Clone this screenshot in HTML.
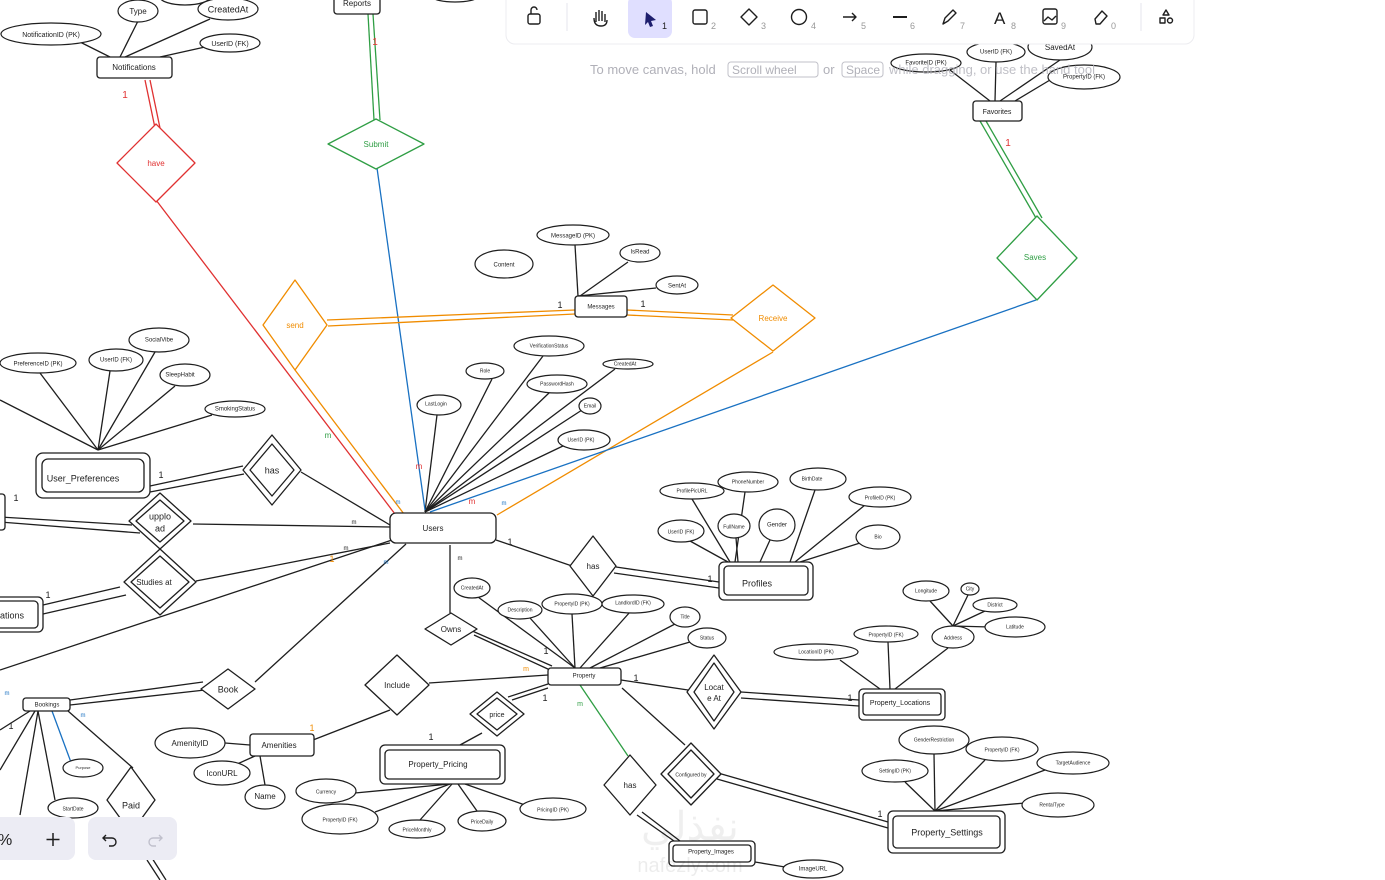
<!DOCTYPE html>
<html><head><meta charset="utf-8"><style>
html,body{margin:0;padding:0;background:#fff;width:1385px;height:880px;overflow:hidden}
svg{display:block}
text{font-family:"Liberation Sans",sans-serif}
</style></head><body>
<svg width="1385" height="880" viewBox="0 0 1385 880" xmlns="http://www.w3.org/2000/svg">
<g fill="none" stroke="#1e1e1e" stroke-width="1.3" stroke-linejoin="round">
<!-- top-left partial ellipses -->
<ellipse cx="185" cy="-3" rx="25" ry="8" fill="#fff"/>
<ellipse cx="455" cy="-3" rx="22" ry="5" fill="#fff"/>
<!-- notifications lines -->
<line x1="120" y1="57" x2="138" y2="21"/><line x1="125" y1="57" x2="210" y2="19"/>
<line x1="110" y1="57" x2="80" y2="42"/><line x1="160" y1="57" x2="205" y2="47"/>
<!-- messages attrs -->
<line x1="578" y1="296" x2="575" y2="245"/><line x1="580" y1="296" x2="628" y2="262"/>
<line x1="578" y1="296" x2="656" y2="288"/>
<!-- favorites attrs -->
<line x1="990" y1="101" x2="950" y2="70"/><line x1="995" y1="101" x2="996" y2="62"/>
<line x1="1000" y1="101" x2="1060" y2="60"/><line x1="1015" y1="101" x2="1050" y2="80"/>
<!-- user prefs attrs -->
<line x1="98" y1="450" x2="0" y2="400"/><line x1="98" y1="450" x2="40" y2="373"/><line x1="98" y1="450" x2="110" y2="371"/>
<line x1="98" y1="450" x2="155" y2="352"/><line x1="98" y1="450" x2="175" y2="386"/><line x1="98" y1="450" x2="212" y2="415"/>
<!-- users attrs -->
<line x1="425" y1="512" x2="437" y2="415"/><line x1="425" y1="512" x2="492" y2="379"/><line x1="425" y1="512" x2="543" y2="356"/>
<line x1="425" y1="512" x2="550" y2="392"/><line x1="425" y1="512" x2="615" y2="369"/><line x1="425" y1="512" x2="582" y2="410"/>
<line x1="425" y1="512" x2="565" y2="445"/>
<!-- profiles attrs -->
<line x1="730" y1="562" x2="692" y2="499"/><line x1="735" y1="562" x2="745" y2="492"/><line x1="790" y1="562" x2="815" y2="490"/>
<line x1="795" y1="562" x2="865" y2="505"/><line x1="800" y1="562" x2="860" y2="543"/><line x1="728" y1="562" x2="690" y2="541"/>
<line x1="738" y1="562" x2="736" y2="538"/><line x1="760" y1="562" x2="770" y2="540"/>
<!-- property attrs -->
<line x1="575" y1="668" x2="478" y2="597"/><line x1="575" y1="668" x2="530" y2="618"/><line x1="575" y1="668" x2="572" y2="614"/>
<line x1="580" y1="668" x2="630" y2="612"/><line x1="590" y1="668" x2="675" y2="624"/><line x1="600" y1="668" x2="690" y2="642"/>
<!-- locations attrs -->
<line x1="880" y1="689" x2="840" y2="660"/><line x1="890" y1="689" x2="888" y2="642"/><line x1="895" y1="689" x2="948" y2="648"/>
<line x1="953" y1="626" x2="930" y2="601"/><line x1="953" y1="626" x2="968" y2="595"/><line x1="953" y1="626" x2="985" y2="611"/><line x1="953" y1="626" x2="990" y2="627"/>
<!-- settings attrs -->
<line x1="935" y1="811" x2="934" y2="754"/><line x1="935" y1="811" x2="905" y2="782"/><line x1="935" y1="811" x2="985" y2="760"/>
<line x1="935" y1="811" x2="1045" y2="770"/><line x1="935" y1="811" x2="1025" y2="803"/>
<!-- pricing attrs -->
<line x1="450" y1="784" x2="355" y2="793"/><line x1="450" y1="784" x2="375" y2="812"/><line x1="452" y1="784" x2="420" y2="820"/>
<line x1="458" y1="784" x2="477" y2="811"/><line x1="465" y1="784" x2="525" y2="805"/>
<!-- amenities attrs -->
<line x1="250" y1="745" x2="225" y2="743"/><line x1="255" y1="756" x2="235" y2="765"/><line x1="260" y1="756" x2="265" y2="785"/>
<!-- bookings attrs -->
<line x1="35" y1="711" x2="0" y2="770"/><line x1="38" y1="711" x2="20" y2="815"/><line x1="38" y1="711" x2="55" y2="800"/>
<line x1="68" y1="711" x2="133" y2="768"/><line x1="30" y1="711" x2="0" y2="730"/>
<line x1="147" y1="860" x2="160" y2="880"/><line x1="152" y1="858" x2="166" y2="880"/>
<!-- images attr -->
<line x1="755" y1="862" x2="785" y2="867"/>
<!-- black relationship lines -->
<line x1="150" y1="486" x2="243" y2="466"/><line x1="150" y1="492" x2="244" y2="474"/><line x1="301" y1="472" x2="390" y2="525"/>
<line x1="0" y1="517" x2="132" y2="525"/><line x1="0" y1="522" x2="140" y2="533"/><line x1="193" y1="524" x2="390" y2="527"/>
<line x1="43" y1="605" x2="120" y2="587"/><line x1="43" y1="614" x2="126" y2="595"/><line x1="196" y1="581" x2="390" y2="543"/>
<line x1="0" y1="670" x2="392" y2="540"/>
<line x1="70" y1="700" x2="203" y2="682"/><line x1="70" y1="705" x2="205" y2="690"/><line x1="255" y1="682" x2="406" y2="544"/>
<line x1="496" y1="540" x2="572" y2="566"/><line x1="616" y1="567" x2="719" y2="582"/><line x1="614" y1="573" x2="719" y2="588"/>
<line x1="450" y1="545" x2="450" y2="613"/><line x1="470" y1="630" x2="552" y2="666"/><line x1="474" y1="635" x2="550" y2="670"/>
<line x1="313" y1="740" x2="390" y2="710"/><line x1="429" y1="683" x2="548" y2="675"/>
<line x1="548" y1="684" x2="508" y2="697"/><line x1="548" y1="688" x2="512" y2="700"/><line x1="482" y1="733" x2="460" y2="745"/>
<line x1="621" y1="680" x2="688" y2="690"/><line x1="741" y1="692" x2="859" y2="700"/><line x1="741" y1="698" x2="859" y2="706"/>
<line x1="622" y1="688" x2="685" y2="745"/><line x1="718" y1="773" x2="888" y2="822"/><line x1="717" y1="779" x2="888" y2="828"/>
<line x1="642" y1="812" x2="680" y2="841"/><line x1="637" y1="815" x2="674" y2="841"/>
</g>
<!-- colored lines -->
<g fill="none" stroke-width="1.3">
<line x1="145" y1="80" x2="155" y2="128" stroke="#e03131"/><line x1="150" y1="80" x2="160" y2="128" stroke="#e03131"/>
<line x1="156" y1="200" x2="395" y2="514" stroke="#e03131"/>
<line x1="368" y1="14" x2="374" y2="120" stroke="#2f9e44"/><line x1="373" y1="14" x2="380" y2="120" stroke="#2f9e44"/>
<line x1="377" y1="168" x2="425" y2="510" stroke="#1971c2"/>
<line x1="575" y1="310" x2="327" y2="320" stroke="#f08c00"/><line x1="575" y1="314" x2="328" y2="326" stroke="#f08c00"/>
<line x1="295" y1="370" x2="404" y2="514" stroke="#f08c00"/>
<line x1="627" y1="310" x2="733" y2="315" stroke="#f08c00"/><line x1="627" y1="315" x2="733" y2="320" stroke="#f08c00"/>
<line x1="773" y1="352" x2="497" y2="515" stroke="#f08c00"/>
<line x1="980" y1="121" x2="1036" y2="218" stroke="#2f9e44"/><line x1="986" y1="121" x2="1042" y2="218" stroke="#2f9e44"/>
<line x1="1036" y1="300" x2="430" y2="512" stroke="#1971c2"/>
<line x1="580" y1="685" x2="628" y2="756" stroke="#2f9e44"/>
<line x1="52" y1="711" x2="72" y2="765" stroke="#1971c2"/>
</g>
<!-- entities -->
<g fill="#fff" stroke="#1e1e1e" stroke-width="1.3">
<rect x="97" y="57" width="75" height="21" rx="3"/>
<rect x="334" y="-6" width="46" height="20" rx="3"/>
<rect x="575" y="296" width="52" height="21" rx="3"/>
<rect x="390" y="513" width="106" height="30" rx="6"/>
<rect x="36" y="453" width="114" height="45" rx="7"/><rect x="42" y="459" width="102" height="33" rx="6"/>
<rect x="-5" y="494" width="10" height="36" rx="3"/>
<rect x="-10" y="597" width="53" height="35" rx="5"/><rect x="-5" y="601" width="43" height="27" rx="4"/>
<rect x="719" y="562" width="94" height="38" rx="5"/><rect x="724" y="566" width="84" height="29" rx="4"/>
<rect x="548" y="668" width="73" height="17" rx="3"/>
<rect x="859" y="689" width="86" height="31" rx="4"/><rect x="863" y="693" width="78" height="22" rx="3"/>
<rect x="380" y="745" width="125" height="39" rx="5"/><rect x="385" y="750" width="115" height="29" rx="4"/>
<rect x="250" y="734" width="64" height="22" rx="3"/>
<rect x="23" y="698" width="47" height="13" rx="3"/>
<rect x="888" y="811" width="117" height="42" rx="5"/><rect x="893" y="816" width="107" height="32" rx="4"/>
<rect x="669" y="841" width="86" height="25" rx="4"/><rect x="673" y="845" width="78" height="17" rx="3"/>
<rect x="973" y="101" width="49" height="20" rx="3"/>
</g>
<!-- diamonds -->
<g fill="#fff" stroke-width="1.3" stroke-linejoin="round">
<polygon points="156,124 195,163 156,202 117,163" stroke="#e03131"/>
<polygon points="376,119 424,144 376,169 328,144" stroke="#2f9e44"/>
<polygon points="295,280 327,325 295,370 263,325" stroke="#f08c00"/>
<polygon points="773,285 815,318 773,351 731,318" stroke="#f08c00"/>
<polygon points="1037,216 1077,258 1037,300 997,258" stroke="#2f9e44"/>
</g>
<g fill="#fff" stroke="#1e1e1e" stroke-width="1.3" stroke-linejoin="round">
<polygon points="272,435 301,470 272,505 243,470"/><polygon points="272,444 294,470 272,496 250,470"/>
<polygon points="160,493 191,521 160,549 129,521"/><polygon points="160,500 184,521 160,542 136,521"/>
<polygon points="160,549 196,582 160,615 124,582"/><polygon points="160,556 189,582 160,608 131,582"/>
<polygon points="593,536 616,566 593,596 570,566"/>
<polygon points="451,613 477,629 451,645 425,629"/>
<polygon points="228,669 255,689 228,709 201,689"/>
<polygon points="397,655 429,685 397,715 365,685"/>
<polygon points="497,692 524,714 497,736 470,714"/><polygon points="497,698 517,714 497,730 477,714"/>
<polygon points="714,655 741,692 714,729 687,692"/><polygon points="714,663 734,692 714,721 694,692"/>
<polygon points="630,755 656,785 630,815 604,785"/>
<polygon points="691,743 721,774 691,805 661,774"/><polygon points="691,750 714,774 691,798 668,774"/>
<polygon points="131,767 155,800 131,833 107,800"/>
</g>
<!-- ellipses -->
<g fill="#fff" stroke="#1e1e1e" stroke-width="1.2">
<ellipse cx="138" cy="11" rx="20" ry="11"/><ellipse cx="228" cy="9" rx="30" ry="11"/>
<ellipse cx="51" cy="34" rx="50" ry="11"/><ellipse cx="230" cy="43" rx="30" ry="9"/>
<ellipse cx="573" cy="235" rx="36" ry="10"/><ellipse cx="640" cy="253" rx="20" ry="9"/>
<ellipse cx="504" cy="264" rx="29" ry="14"/><ellipse cx="677" cy="285" rx="21" ry="9"/>
<ellipse cx="926" cy="63" rx="35" ry="9"/><ellipse cx="996" cy="52" rx="29" ry="10"/>
<ellipse cx="1060" cy="47" rx="32" ry="13"/><ellipse cx="1084" cy="77" rx="36" ry="12"/>
<ellipse cx="38" cy="363" rx="38" ry="10"/><ellipse cx="116" cy="360" rx="27" ry="11"/>
<ellipse cx="159" cy="340" rx="30" ry="12"/><ellipse cx="185" cy="375" rx="25" ry="11"/><ellipse cx="235" cy="409" rx="30" ry="8"/>
<ellipse cx="549" cy="346" rx="35" ry="10"/><ellipse cx="485" cy="371" rx="19" ry="8"/><ellipse cx="439" cy="405" rx="22" ry="10"/>
<ellipse cx="557" cy="384" rx="30" ry="9"/><ellipse cx="628" cy="364" rx="25" ry="5"/><ellipse cx="590" cy="406" rx="11" ry="8"/>
<ellipse cx="584" cy="440" rx="26" ry="10"/>
<ellipse cx="692" cy="491" rx="32" ry="8"/><ellipse cx="748" cy="482" rx="30" ry="10"/><ellipse cx="818" cy="479" rx="28" ry="11"/>
<ellipse cx="880" cy="497" rx="31" ry="10"/><ellipse cx="878" cy="537" rx="22" ry="12"/><ellipse cx="681" cy="531" rx="23" ry="11"/>
<ellipse cx="734" cy="526" rx="16" ry="12"/><ellipse cx="777" cy="525" rx="18" ry="16"/>
<ellipse cx="472" cy="588" rx="18" ry="10"/><ellipse cx="520" cy="610" rx="22" ry="9"/><ellipse cx="572" cy="604" rx="30" ry="10"/>
<ellipse cx="633" cy="604" rx="31" ry="9"/><ellipse cx="685" cy="617" rx="15" ry="10"/><ellipse cx="707" cy="638" rx="19" ry="10"/>
<ellipse cx="926" cy="591" rx="23" ry="10"/><ellipse cx="970" cy="589" rx="9" ry="6"/><ellipse cx="995" cy="605" rx="22" ry="7"/>
<ellipse cx="1015" cy="627" rx="30" ry="10"/><ellipse cx="953" cy="637" rx="21" ry="11"/><ellipse cx="886" cy="634" rx="32" ry="8"/>
<ellipse cx="816" cy="652" rx="42" ry="8"/>
<ellipse cx="934" cy="740" rx="35" ry="14"/><ellipse cx="1002" cy="749" rx="36" ry="12"/><ellipse cx="1073" cy="763" rx="36" ry="11"/>
<ellipse cx="895" cy="771" rx="33" ry="11"/><ellipse cx="1058" cy="805" rx="36" ry="12"/>
<ellipse cx="326" cy="791" rx="30" ry="12"/><ellipse cx="340" cy="819" rx="38" ry="15"/><ellipse cx="417" cy="829" rx="28" ry="9"/>
<ellipse cx="482" cy="821" rx="24" ry="10"/><ellipse cx="553" cy="809" rx="33" ry="11"/>
<ellipse cx="190" cy="743" rx="35" ry="15"/><ellipse cx="222" cy="773" rx="28" ry="12"/><ellipse cx="265" cy="797" rx="20" ry="12"/>
<ellipse cx="83" cy="768" rx="20" ry="9"/><ellipse cx="73" cy="808" rx="25" ry="10"/>
<ellipse cx="813" cy="869" rx="30" ry="9"/>
</g>
<!-- labels -->
<g fill="#1e1e1e" font-size="9" text-anchor="middle" dominant-baseline="middle">
<text x="138" y="12" font-size="8">Type</text><text x="228" y="10">CreatedAt</text>
<text x="51" y="35" font-size="7">NotificationID (PK)</text><text x="230" y="44" font-size="7">UserID (FK)</text>
<text x="134" y="68" font-size="8">Notifications</text><text x="357" y="4" font-size="8">Reports</text>
<text x="573" y="236" font-size="6">MessageID (PK)</text><text x="640" y="252" font-size="6">IsRead</text>
<text x="504" y="265" font-size="6">Content</text><text x="677" y="286" font-size="6">SentAt</text>
<text x="601" y="307" font-size="6">Messages</text>
<text x="926" y="63" font-size="6">FavoriteID (PK)</text><text x="996" y="52" font-size="6">UserID (FK)</text>
<text x="1060" y="48" font-size="8">SavedAt</text><text x="1084" y="77" font-size="6">PropertyID (FK)</text>
<text x="997" y="112" font-size="7">Favorites</text>
<text x="38" y="364" font-size="6">PreferenceID (PK)</text><text x="116" y="360" font-size="6">UserID (FK)</text>
<text x="159" y="340" font-size="6">SocialVibe</text><text x="180" y="375" font-size="6">SleepHabit</text><text x="235" y="409" font-size="6">SmokingStatus</text>
<text x="83" y="479" font-size="9">User_Preferences</text>
<text x="549" y="346" font-size="5">VerificationStatus</text><text x="485" y="371" font-size="5">Role</text><text x="436" y="404" font-size="5">LastLogin</text>
<text x="557" y="384" font-size="5">PasswordHash</text><text x="625" y="364" font-size="5">CreatedAt</text><text x="590" y="406" font-size="5">Email</text>
<text x="581" y="440" font-size="5">UserID (PK)</text><text x="433" y="529" font-size="8">Users</text>
<text x="692" y="491" font-size="5">ProfilePicURL</text><text x="748" y="482" font-size="5">PhoneNumber</text><text x="812" y="479" font-size="5">BirthDate</text>
<text x="880" y="498" font-size="5">ProfileID (PK)</text><text x="878" y="537" font-size="5">Bio</text><text x="681" y="532" font-size="5">UserID (FK)</text>
<text x="734" y="527" font-size="5">FullName</text><text x="777" y="525" font-size="6">Gender</text>
<text x="757" y="584" font-size="9">Profiles</text>
<text x="472" y="588" font-size="5">CreatedAt</text><text x="520" y="610" font-size="5">Description</text><text x="572" y="604" font-size="5">PropertyID (PK)</text>
<text x="633" y="603" font-size="5">LandlordID (FK)</text><text x="685" y="617" font-size="5">Title</text><text x="707" y="638" font-size="5">Status</text>
<text x="584" y="676" font-size="6">Property</text>
<text x="926" y="591" font-size="5">Longitude</text><text x="970" y="589" font-size="5">City</text><text x="995" y="605" font-size="5">District</text>
<text x="1015" y="627" font-size="5">Latitude</text><text x="953" y="638" font-size="5">Address</text><text x="886" y="635" font-size="5">PropertyID (FK)</text>
<text x="816" y="652" font-size="5">LocationID (PK)</text><text x="900" y="703" font-size="7">Property_Locations</text>
<text x="934" y="740" font-size="5">GenderRestriction</text><text x="1002" y="750" font-size="5">PropertyID (FK)</text><text x="1073" y="763" font-size="5">TargetAudience</text>
<text x="895" y="771" font-size="5">SettingID (PK)</text><text x="1052" y="805" font-size="5">RentalType</text>
<text x="947" y="833" font-size="9">Property_Settings</text>
<text x="326" y="792" font-size="5">Currency</text><text x="340" y="820" font-size="5">PropertyID (FK)</text><text x="417" y="830" font-size="5">PriceMonthly</text>
<text x="482" y="822" font-size="5">PriceDaily</text><text x="553" y="810" font-size="5">PricingID (PK)</text>
<text x="438" y="765" font-size="8">Property_Pricing</text>
<text x="190" y="744" font-size="8">AmenityID</text><text x="222" y="774" font-size="8">IconURL</text><text x="265" y="797" font-size="8">Name</text>
<text x="279" y="746" font-size="8">Amenities</text>
<text x="47" y="705" font-size="6">Bookings</text><text x="83" y="768" font-size="4">Purpose</text><text x="73" y="809" font-size="5">StartDate</text>
<text x="711" y="852" font-size="6">Property_Images</text><text x="813" y="869" font-size="6">ImageURL</text>
<text x="12" y="616" font-size="9">ations</text>
<text x="272" y="471" font-size="9">has</text><text x="160" y="517" font-size="9">upplo</text><text x="160" y="529" font-size="9">ad</text>
<text x="154" y="583" font-size="8">Studies  at</text><text x="593" y="567" font-size="8">has</text><text x="451" y="630" font-size="8">Owns</text>
<text x="228" y="690" font-size="9">Book</text><text x="397" y="686" font-size="8">Include</text><text x="497" y="715" font-size="7">price</text>
<text x="714" y="688" font-size="8">Locat</text><text x="714" y="699" font-size="8">e At</text>
<text x="630" y="786" font-size="8">has</text><text x="691" y="775" font-size="5">Configured by</text><text x="131" y="806" font-size="9">Paid</text>
<text x="156" y="164" font-size="8" fill="#e03131">have</text><text x="376" y="145" font-size="8" fill="#2f9e44">Submit</text>
<text x="295" y="326" font-size="8" fill="#f08c00">send</text><text x="773" y="319" font-size="8" fill="#f08c00">Receive</text>
<text x="1035" y="258" font-size="8" fill="#2f9e44">Saves</text>
</g>
<!-- cardinalities -->
<g font-size="10" text-anchor="middle">
<text x="125" y="98" fill="#e03131">1</text><text x="375" y="45" fill="#e03131">1</text><text x="1008" y="146" fill="#e03131">1</text>
<text x="560" y="308" fill="#1e1e1e" font-size="9">1</text><text x="643" y="307" fill="#1e1e1e" font-size="9">1</text>
<text x="161" y="478" fill="#1e1e1e" font-size="9">1</text><text x="16" y="501" fill="#1e1e1e" font-size="9">1</text><text x="48" y="598" fill="#1e1e1e" font-size="9">1</text>
<text x="510" y="545" fill="#1e1e1e" font-size="9">1</text><text x="710" y="582" fill="#1e1e1e" font-size="9">1</text><text x="546" y="654" fill="#1e1e1e" font-size="9">1</text>
<text x="545" y="701" fill="#1e1e1e" font-size="9">1</text><text x="431" y="740" fill="#1e1e1e" font-size="9">1</text><text x="636" y="681" fill="#1e1e1e" font-size="9">1</text>
<text x="850" y="701" fill="#1e1e1e" font-size="9">1</text><text x="880" y="817" fill="#1e1e1e" font-size="9">1</text><text x="11" y="729" fill="#1e1e1e" font-size="9">1</text>
<text x="312" y="731" fill="#f08c00" font-size="9">1</text><text x="332" y="562" fill="#f08c00" font-size="9">1</text>
<text x="419" y="469" fill="#e03131" font-size="8">m</text><text x="472" y="504" fill="#e03131" font-size="8">m</text>
<text x="328" y="438" fill="#2f9e44" font-size="8">m</text><text x="580" y="706" fill="#2f9e44" font-size="7">m</text>
<text x="526" y="671" fill="#f08c00" font-size="7">m</text>
<text x="398" y="504" fill="#1971c2" font-size="6">m</text><text x="504" y="505" fill="#1971c2" font-size="6">m</text>
<text x="386" y="564" fill="#1971c2" font-size="6">m</text><text x="83" y="717" fill="#1971c2" font-size="6">m</text><text x="7" y="695" fill="#1971c2" font-size="6">m</text>
<text x="354" y="524" fill="#1e1e1e" font-size="6">m</text><text x="346" y="550" fill="#1e1e1e" font-size="6">m</text><text x="460" y="560" fill="#1e1e1e" font-size="6">m</text>
</g>
<!-- hint text -->
<text x="590" y="74" font-size="13" fill="#b0b0b8">To move canvas, hold</text>
<rect x="728" y="62" width="90" height="15" rx="3" fill="none" stroke="#c0c0c8"/>
<text x="732" y="74" font-size="12" fill="#b0b0b8" font-family="Liberation Mono">Scroll wheel</text>
<text x="823" y="74" font-size="13" fill="#b0b0b8">or</text>
<rect x="842" y="62" width="41" height="15" rx="3" fill="none" stroke="#c0c0c8"/>
<text x="846" y="74" font-size="12" fill="#b0b0b8">Space</text>
<text x="889" y="74" font-size="13" fill="#b0b0b8" opacity="0.8">while dragging, or use the hand tool</text>
<!-- toolbar -->
<rect x="506" y="-10" width="688" height="54" rx="9" fill="#fff" stroke="#ececf0"/>
<rect x="628" y="-4" width="44" height="42" rx="7" fill="#e0dfff"/>
<line x1="567" y1="3" x2="567" y2="31" stroke="#e6e6ec"/><line x1="1141" y1="3" x2="1141" y2="31" stroke="#e6e6ec"/>
<g fill="none" stroke="#1e1e1e" stroke-width="1.4" stroke-linejoin="round">
<rect x="528" y="14" width="12" height="10" rx="2"/><path d="M531 14 v-4 a3 3 0 0 1 6 0"/>
<path d="M596 22 v-10 M599 21 v-11 M602 21 v-10 M605 22 v-8 M594 18 q0 8 7 8 q6 0 6-6"/>
<rect x="693" y="10" width="14" height="14" rx="2"/>
<polygon points="749,9 757,17 749,25 741,17"/>
<circle cx="799" cy="17" r="7.5"/>
<path d="M843 17 h13 M852 13 l4 4 -4 4"/>
<line x1="893" y1="17" x2="907" y2="17" stroke-width="2"/>
<path d="M943 24 l2-6 8-8 3 3 -8 8z"/>
<rect x="1043" y="9" width="14" height="15" rx="2"/><path d="M1044 21 l4-4 4 3 4-4"/>
<path d="M1095 19 l7-8 5 5 -7 8 h-4z"/>
<path d="M1166 10 l3 5 h-6z"/><rect x="1160" y="18" width="5" height="5"/><circle cx="1170" cy="20.5" r="2.5"/>
</g>
<polygon points="646,12 656,20 651,21 653,26 650,27 648,22 645,25" fill="#1e1e6e"/>
<text x="994" y="24" font-size="17" font-family="Liberation Serif" fill="#1e1e1e">A</text>
<g font-size="9" fill="#999">
<text x="662" y="29" fill="#1e1e1e">1</text><text x="711" y="29">2</text><text x="761" y="29">3</text><text x="811" y="29">4</text>
<text x="861" y="29">5</text><text x="910" y="29">6</text><text x="960" y="29">7</text><text x="1011" y="29">8</text>
<text x="1061" y="29">9</text><text x="1111" y="29">0</text>
</g>
<!-- watermark -->
<text x="690" y="840" font-size="40" fill="#000" opacity="0.06" text-anchor="middle">نفذلي</text>
<text x="690" y="872" font-size="20" fill="#000" opacity="0.07" text-anchor="middle">nafezly.com</text>
<!-- bottom controls -->
<rect x="-10" y="817" width="85" height="43" rx="8" fill="#ececf4"/>
<text x="-2" y="845" font-size="16" fill="#1e1e1e">%</text>
<path d="M53 833 v13 M46.5 839.5 h13" stroke="#1e1e1e" stroke-width="1.5"/>
<rect x="88" y="817" width="89" height="43" rx="8" fill="#ececf4"/>
<path d="M106 835 l-3 3 3 3 M103 838 h9 a4 4 0 0 1 0 8 h-3" fill="none" stroke="#1e1e1e" stroke-width="1.4"/>
<path d="M159 835 l3 3 -3 3 M162 838 h-9 a4 4 0 0 0 0 8 h3" fill="none" stroke="#c0c0cc" stroke-width="1.4"/>
</svg>
</body></html>
